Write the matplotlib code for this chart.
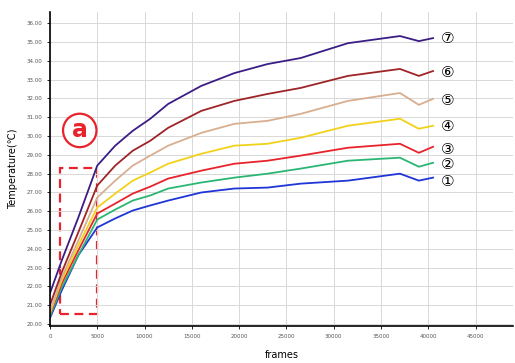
import numpy as np
import matplotlib.pyplot as plt
from matplotlib.patches import Rectangle

# frames
frames = [0, 1250, 3000, 5000, 6900, 8750, 10600, 12500, 16000, 19500, 23000, 26500, 31500, 37000, 39000, 40500]

# temperature curves, (1) lowest ... (7) highest
t1 = [20.32, 21.80, 23.66, 25.14, 25.62, 26.04, 26.31, 26.57, 27.00, 27.21, 27.26, 27.47, 27.63, 28.00, 27.63, 27.79]
t2 = [20.42, 21.96, 23.66, 25.56, 26.09, 26.57, 26.84, 27.21, 27.53, 27.79, 28.00, 28.27, 28.69, 28.85, 28.37, 28.58]
t3 = [20.53, 22.17, 23.92, 25.88, 26.41, 26.94, 27.31, 27.74, 28.16, 28.53, 28.69, 28.96, 29.38, 29.59, 29.11, 29.43]
t4 = [20.58, 22.33, 24.19, 26.20, 26.94, 27.63, 28.06, 28.53, 29.06, 29.49, 29.59, 29.91, 30.55, 30.92, 30.39, 30.55]
t5 = [20.64, 22.49, 24.45, 26.73, 27.63, 28.43, 28.96, 29.49, 30.17, 30.65, 30.81, 31.18, 31.87, 32.29, 31.66, 31.98]
t6 = [21.01, 22.76, 24.88, 27.37, 28.43, 29.22, 29.75, 30.44, 31.34, 31.87, 32.24, 32.56, 33.20, 33.57, 33.20, 33.46]
t7 = [21.64, 23.39, 25.67, 28.43, 29.49, 30.28, 30.92, 31.71, 32.67, 33.35, 33.83, 34.15, 34.94, 35.32, 35.05, 35.21]

series = [t1, t2, t3, t4, t5, t6, t7]
colors = ['#1f35d6', '#2bb673', '#e8232b', '#f2d11a', '#d8ae90', '#9e2428', '#3b1d86']
marks = ['①', '②', '③', '④', '⑤', '⑥', '⑦']
mark_y = [27.6, 28.5, 29.3, 30.5, 31.9, 33.4, 35.2]

yticks = list(range(20, 37))
xticks = list(range(0, 50000, 5000))

fig = plt.figure(figsize=(5.15, 3.63), dpi=100)
ax = fig.add_axes([0.097, 0.102, 0.9, 0.865])

for vals, c in zip(series, colors):
    ax.plot(frames, vals, color=c, linewidth=1.3)

for m, yv in zip(marks, mark_y):
    ax.text(41300, yv, m, fontsize=11, va='center', ha='left',
            family=['DejaVu Sans', 'Noto Sans CJK SC'])

# dashed box and circled label
ax.add_patch(Rectangle((1050, 20.55), 3950, 7.75, fill=False, edgecolor='#e8232b',
                       linestyle=(0, (4, 2.5)), linewidth=1.6))
ax.text(3150, 30.3, 'a', fontsize=17, fontweight='bold', color='#e8232b', ha='center', va='center',
        bbox=dict(boxstyle='circle,pad=0.2', facecolor='white', edgecolor='#e8232b', linewidth=1.6))

ax.set_xlim(0, 49000)
ax.set_ylim(19.9, 36.6)
ax.set_xticks(xticks)
ax.set_xticklabels([str(v) for v in xticks], fontsize=4, color='#555555')
ax.set_yticks(yticks)
ax.set_yticklabels([f'{v:.2f}' for v in yticks], fontsize=4, color='#555555')
ax.tick_params(length=2, width=0.6)
ax.grid(True, color='#d8d8d8', linewidth=0.7)
ax.spines['top'].set_visible(False)
ax.spines['right'].set_visible(False)
ax.spines['left'].set_linewidth(1.2)
ax.spines['bottom'].set_linewidth(1.2)

ax.set_ylabel('Temperature(℃)', fontsize=7, family=['DejaVu Sans', 'Noto Sans CJK SC'], labelpad=6)
ax.set_xlabel('frames', fontsize=7, labelpad=8)

fig.savefig('out.png', dpi=100)
